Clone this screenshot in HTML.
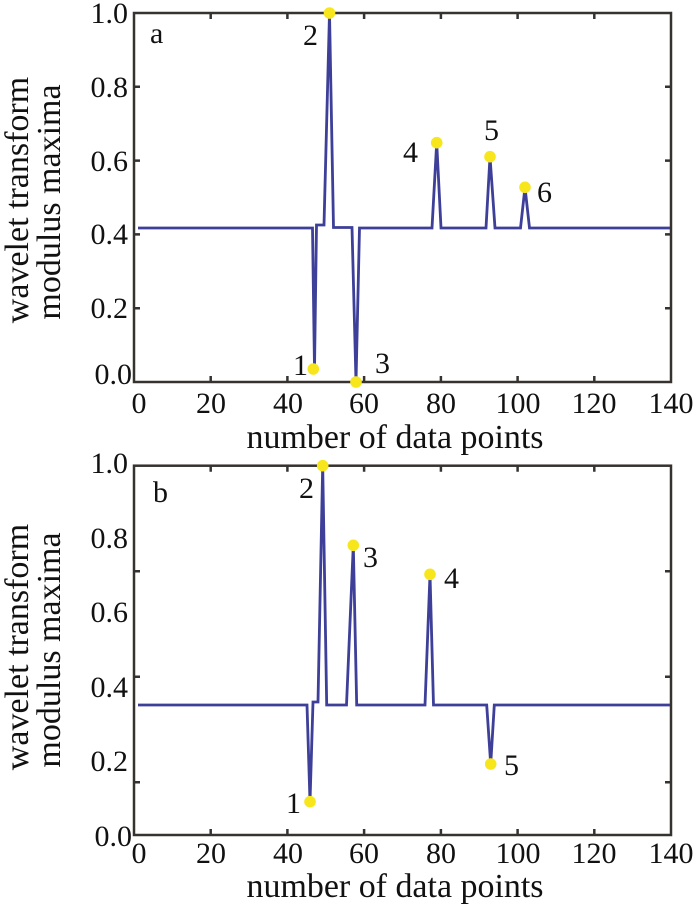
<!DOCTYPE html>
<html>
<head>
<meta charset="utf-8">
<style>
  html,body{margin:0;padding:0;background:#fff;}
  svg{display:block;}
  text{font-family:"Liberation Serif","Times New Roman",serif;fill:#111;}
</style>
</head>
<body>
<svg width="700" height="906" viewBox="0 0 700 906" xmlns="http://www.w3.org/2000/svg">
  <rect x="0" y="0" width="700" height="906" fill="#fff"/>

  <!-- ============ TOP PLOT (a) ============ -->
  <g stroke="#36322f" stroke-width="2.5" fill="none">
    <rect x="134" y="13" width="537" height="369"/>
    <path d="M210.7,382 v-6 M287.4,382 v-6 M364.1,382 v-6 M440.9,382 v-6 M517.6,382 v-6 M594.3,382 v-6
             M210.7,13 v6 M287.4,13 v6 M364.1,13 v6 M440.9,13 v6 M517.6,13 v6 M594.3,13 v6"/>
    <path d="M134,86.8 h6 M134,160.6 h6 M134,234.4 h6 M134,308.2 h6
             M671,86.8 h-6 M671,160.6 h-6 M671,234.4 h-6 M671,308.2 h-6"/>
  </g>
  <path d="M138,228 L312.5,228 L314.5,369 L316.5,225 L324,225 L329.5,13 L333.5,227.5 L352,227.5 L356,382 L359.5,228 L432,228 L436.7,142.7 L441,228 L486,228 L490,156.7 L495,228 L520.5,228 L525,187.3 L529.5,228 L670,228"
        fill="none" stroke="#3d3f98" stroke-width="2.8" stroke-linejoin="miter"/>
  <g fill="#f7e61c">
    <circle cx="329.5" cy="13" r="5.8"/>
    <circle cx="313.3" cy="369" r="5.8"/>
    <circle cx="356" cy="382" r="5.8"/>
    <circle cx="436.7" cy="142.7" r="5.8"/>
    <circle cx="490" cy="156.7" r="5.8"/>
    <circle cx="525" cy="187.3" r="5.8"/>
  </g>
  <g font-size="30" text-anchor="end">
    <text x="128" y="23">1.0</text>
    <text x="128" y="97">0.8</text>
    <text x="128" y="171">0.6</text>
    <text x="128" y="244">0.4</text>
    <text x="128" y="318">0.2</text>
    <text x="132" y="384">0.0</text>
  </g>
  <g font-size="30" text-anchor="middle">
    <text x="139" y="413">0</text>
    <text x="211" y="413">20</text>
    <text x="288" y="413">40</text>
    <text x="364" y="413">60</text>
    <text x="441" y="413">80</text>
    <text x="518" y="413">100</text>
    <text x="594" y="413">120</text>
    <text x="671" y="413">140</text>
  </g>
  <text x="395" y="448" font-size="34" text-anchor="middle" textLength="297" lengthAdjust="spacingAndGlyphs">number of data points</text>
  <text transform="translate(28,200) rotate(-90)" font-size="34" text-anchor="middle">wavelet transform</text>
  <text transform="translate(60,202) rotate(-90)" font-size="34" text-anchor="middle">modulus maxima</text>
  <g font-size="30">
    <text x="150" y="43">a</text>
    <text x="303" y="45">2</text>
    <text x="293" y="375">1</text>
    <text x="375" y="373">3</text>
    <text x="403" y="162">4</text>
    <text x="484" y="140">5</text>
    <text x="537" y="202">6</text>
  </g>

  <!-- ============ BOTTOM PLOT (b) ============ -->
  <g stroke="#36322f" stroke-width="2.5" fill="none">
    <rect x="134" y="465.7" width="537" height="369.3"/>
    <path d="M210.7,835 v-6 M287.4,835 v-6 M364.1,835 v-6 M440.9,835 v-6 M517.6,835 v-6 M594.3,835 v-6
             M210.7,465.7 v6 M287.4,465.7 v6 M364.1,465.7 v6 M440.9,465.7 v6 M517.6,465.7 v6 M594.3,465.7 v6"/>
    <path d="M134,571.2 h6 M134,676.7 h6 M134,782.2 h6
             M671,571.2 h-6 M671,676.7 h-6 M671,782.2 h-6"/>
  </g>
  <path d="M138,705 L307,705 L310,801.7 L313,702 L318,702 L322.7,465.7 L326.7,705 L346.5,705 L353.3,545.3 L356.7,705 L425,705 L430,574.3 L433.5,705 L486.7,705 L490.7,764 L494.3,705 L670,705"
        fill="none" stroke="#3d3f98" stroke-width="2.8" stroke-linejoin="miter"/>
  <g fill="#f7e61c">
    <circle cx="322.7" cy="465.7" r="5.8"/>
    <circle cx="353.3" cy="545.3" r="5.8"/>
    <circle cx="430" cy="574.3" r="5.8"/>
    <circle cx="490.7" cy="764" r="5.8"/>
    <circle cx="310" cy="801.7" r="5.8"/>
  </g>
  <g font-size="30" text-anchor="end">
    <text x="128" y="473">1.0</text>
    <text x="128" y="548">0.8</text>
    <text x="128" y="622">0.6</text>
    <text x="128" y="697">0.4</text>
    <text x="128" y="771">0.2</text>
    <text x="132" y="846">0.0</text>
  </g>
  <g font-size="30" text-anchor="middle">
    <text x="139" y="863">0</text>
    <text x="211" y="863">20</text>
    <text x="288" y="863">40</text>
    <text x="364" y="863">60</text>
    <text x="441" y="863">80</text>
    <text x="518" y="863">100</text>
    <text x="594" y="863">120</text>
    <text x="671" y="863">140</text>
  </g>
  <text x="395" y="897" font-size="34" text-anchor="middle" textLength="297" lengthAdjust="spacingAndGlyphs">number of data points</text>
  <text transform="translate(28,647) rotate(-90)" font-size="34" text-anchor="middle">wavelet transform</text>
  <text transform="translate(60,650) rotate(-90)" font-size="34" text-anchor="middle">modulus maxima</text>
  <g font-size="30">
    <text x="153" y="502">b</text>
    <text x="299" y="498">2</text>
    <text x="363" y="567">3</text>
    <text x="444" y="588">4</text>
    <text x="504" y="775">5</text>
    <text x="286" y="813">1</text>
  </g>
</svg>
</body>
</html>
